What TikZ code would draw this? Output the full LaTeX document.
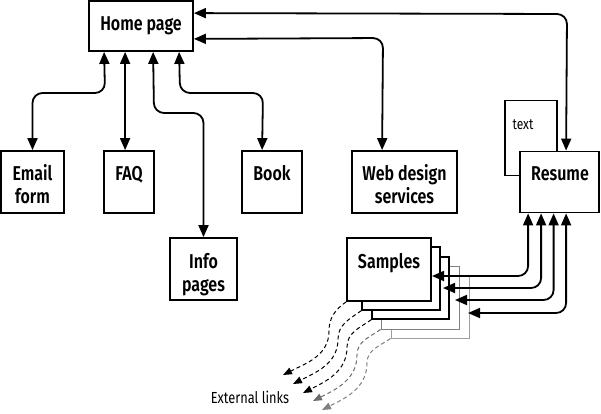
\documentclass[tikz,border=0pt]{standalone}
\usepackage{fontspec}
\setmainfont{Fira Sans}[FakeStretch=0.8, BoldFont={Fira Sans SemiBold}]
\usetikzlibrary{arrows.meta,calc}
\begin{document}
\begin{tikzpicture}[x=1pt,y=1pt,
  box/.style={draw, line width=1.8pt, fill=white, inner sep=0pt},
  lbl/.style={font=\bfseries\fontsize{20}{23}\selectfont, align=center, inner sep=0pt, anchor=base},
  small/.style={font=\fontsize{16}{18}\selectfont, inner sep=0pt, anchor=base},
  conn/.style={line width=1.8pt, rounded corners=10pt, {Triangle[length=12pt,width=10pt]}-{Triangle[length=12pt,width=10pt]}},
  dsh/.style={line width=1pt, dash pattern=on 4pt off 3pt, rounded corners=0pt, -{Triangle[length=9pt,width=7pt]}}]
\useasboundingbox (0,0) rectangle (601,-413);

% boxes
\node[box, minimum width=104pt, minimum height=50pt] (home) at (141,-26) {};
\node[box, minimum width=63pt, minimum height=62pt] (email) at (32.5,-182) {};
\node[box, minimum width=50pt, minimum height=62pt] (faq) at (129,-182) {};
\node[box, minimum width=60pt, minimum height=62pt] (book) at (272,-182) {};
\node[box, minimum width=105pt, minimum height=62pt] (web) at (404.5,-182) {};
\node[box, line width=1.6pt, minimum width=52pt, minimum height=75pt] (textbox) at (531,-138) {};
\node[box, minimum width=79pt, minimum height=61pt] (resume) at (559.5,-182) {};
\node[box, minimum width=67pt, minimum height=62pt] (info) at (203.5,-269) {};

% stacked samples
\node[box, line width=1pt, draw=gray!75, minimum width=78pt, minimum height=62pt] (layer5) at (430,-307) {};
\node[box, line width=1pt, draw=gray, minimum width=78pt, minimum height=63pt] (layer4) at (420,-297.5) {};
\node[box, line width=1.3pt, minimum width=77pt, minimum height=62pt] (layer3) at (410.5,-288) {};
\node[box, line width=1.3pt, minimum width=78pt, minimum height=63pt] (layer2) at (401,-278.5) {};
\node[box, minimum width=84pt, minimum height=63pt] (samples) at (389,-269.5) {};

% labels
\node[lbl] at (141,-30) {Home page};
\node[lbl] at (32.5,-203) {Email\\form};
\node[lbl] at (129,-180) {FAQ};
\node[lbl] at (272,-180) {Book};
\node[lbl] at (404.5,-203) {Web design\\services};
\node[lbl] at (560,-180) {Resume};
\node[lbl] at (203.5,-291) {Info\\pages};
\node[lbl] at (389,-268) {Samples};
\node[small, font=\fontsize{15}{17}\selectfont] at (523,-129) {text};
\node[small] at (250,-403) {External links};

% connectors from home page
\draw[conn] ([xshift=16pt]home.south west) -- (105,-93) -- (32.5,-93) -- (email.north);
\draw[conn] ([xshift=37pt]home.south west) -- ([xshift=22pt]faq.north west);
\draw[conn] ([xshift=65pt]home.south west) -- (154,-113) -- (203.5,-113) -- (info.north);
\draw[conn] ([xshift=91pt]home.south west) -- (180,-93) -- (263,-93) -- ([xshift=21pt]book.north west);
\draw[conn] ([yshift=13pt]home.south east) -- (383,-38) -- ([xshift=31pt]web.north west);
\draw[conn] ([yshift=-13pt]home.north east) -- (567,-14) -- ([xshift=47pt]resume.north west);

% resume to samples
\coordinate (s1) at (432,-276);
\coordinate (s2) at (443,-288);
\coordinate (s3) at (455,-300);
\coordinate (s4) at (468,-313);
\draw[conn] ([xshift=9pt]resume.south west) |- (s1);
\draw[conn] ([xshift=22pt]resume.south west) |- (s2);
\draw[conn] ([xshift=34.5pt]resume.south west) |- (s3);
\draw[conn] ([xshift=47pt]resume.south west) |- (s4);

% external links
\coordinate (e1) at (283,-375);
\coordinate (e2) at (293,-384);
\coordinate (e3) at (303,-393);
\coordinate (e4) at (313,-401);
\coordinate (e5) at (322,-410);
\draw[dsh] (samples.south west) to[out=215,in=90] (329,-331) to[out=270,in=27] (e1);
\draw[dsh] (layer2.south west) to[out=215,in=90] (338,-339) to[out=270,in=27] (e2);
\draw[dsh] (layer3.south west) to[out=215,in=90] (347,-347) to[out=270,in=27] (e3);
\draw[dsh, draw=gray!85!black] (layer4.south west) to[out=215,in=90] (357,-355) to[out=270,in=27] (e4);
\draw[dsh, draw=gray] (layer5.south west) to[out=215,in=90] (367,-363) to[out=270,in=27] (e5);
\end{tikzpicture}
\end{document}
